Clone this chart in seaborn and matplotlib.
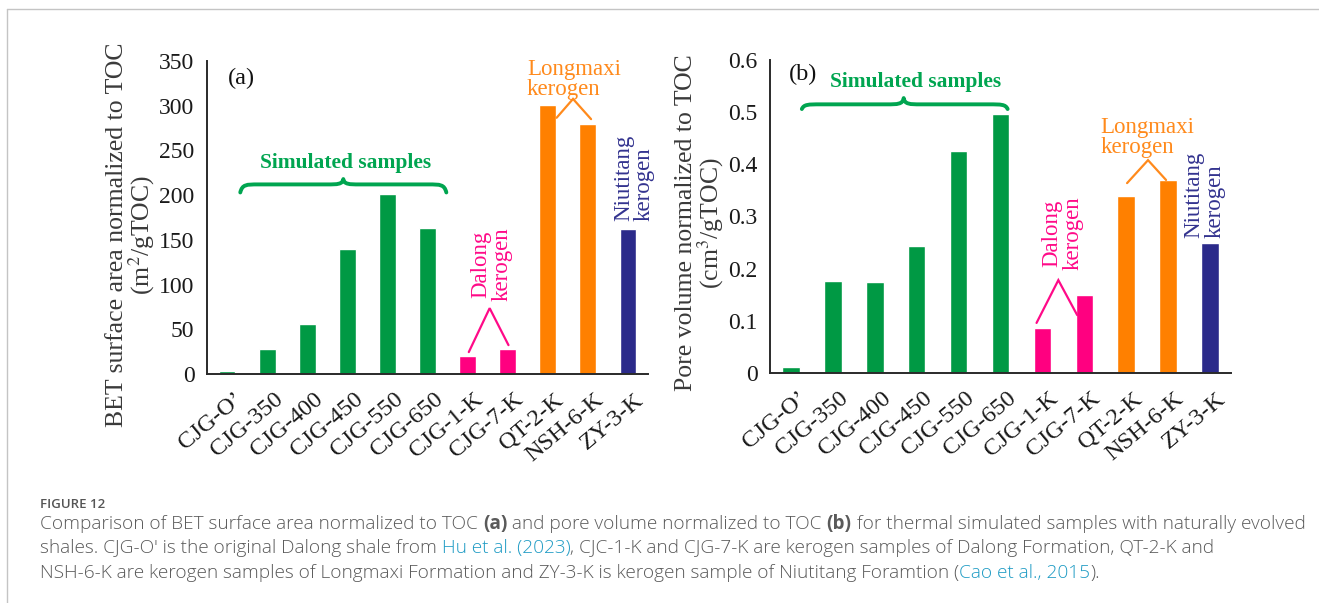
import numpy as np
import pandas as pd
import matplotlib
matplotlib.use("Agg")
import matplotlib.pyplot as plt
import matplotlib.transforms as mtransforms
import seaborn as sns
from matplotlib.path import Path
from matplotlib.patches import PathPatch
from matplotlib.lines import Line2D
from matplotlib.ticker import FixedLocator

# ---------------- data ----------------
samples = ["CJG-O’", "CJG-350", "CJG-400", "CJG-450", "CJG-550", "CJG-650",
           "CJG-1-K", "CJG-7-K", "QT-2-K", "NSH-6-K", "ZY-3-K"]
groups = ["Simulated", "Simulated", "Simulated", "Simulated", "Simulated", "Simulated",
          "Dalong", "Dalong", "Longmaxi", "Longmaxi", "Niutitang"]
bet_area = [3.7, 27.6, 55.6, 139.6, 201.5, 163.0, 20.0, 27.6, 300.7, 280.0, 161.6]
pore_volume = [0.012, 0.176, 0.175, 0.244, 0.426, 0.496, 0.087, 0.150, 0.339, 0.370, 0.249]
bet_ticks = [0, 50, 100, 150, 200, 250, 300, 350]
pv_ticks = [0, 0.1, 0.2, 0.3, 0.4, 0.5, 0.6]
pv_ticklabels = ["0", "0.1", "0.2", "0.3", "0.4", "0.5", "0.6"]

group_colors = {"Simulated": "#009944", "Dalong": "#FF0080",
                "Longmaxi": "#FF8000", "Niutitang": "#2B2A8A"}
text_colors = {"Simulated": "#00A550", "Dalong": "#FF0A88",
               "Longmaxi": "#FF8A1C", "Niutitang": "#33338F"}

df = pd.DataFrame({"sample": samples, "group": groups,
                   "bet": bet_area, "pv": pore_volume})

# ---------------- figure ----------------
W, H = 1319, 603
fig = plt.figure(figsize=(W / 100, H / 100), dpi=100)
sns.set_style("white")
plt.rcParams["font.family"] = ["Liberation Serif", "DejaVu Serif"]
plt.rcParams["mathtext.fontset"] = "stix"

def px_axes(l, r, t, b):
    return [l / W, 1 - b / H, (r - l) / W, (b - t) / H]

ax1 = fig.add_axes(px_axes(207, 648, 61, 374))
ax2 = fig.add_axes(px_axes(770, 1231, 60, 373))

FS = 16.5
YTFS = 17
XTFS = 17.5
AXC = "#2a2a2a"

def style_axis(ax, col, ylim, yticks, yticklabels=None):
    sns.barplot(data=df, x="sample", y=col, hue="group",
                palette=group_colors, width=0.42, saturation=1,
                legend=False, ax=ax, dodge=False)
    ax.set_xlim(-0.5, len(samples) - 0.5)
    ax.set_ylim(*ylim)
    for s in ["top", "right"]:
        ax.spines[s].set_visible(False)
    for s in ["left", "bottom"]:
        ax.spines[s].set_color(AXC)
        ax.spines[s].set_linewidth(1.4)
    ax.set_yticks(yticks)
    if yticklabels is not None:
        ax.set_yticklabels(yticklabels)
    ax.tick_params(axis="y", direction="out", length=6, width=1.4, color=AXC,
                   labelsize=YTFS, labelcolor="#1a1a1a", pad=3)
    ax.set_xticks(range(len(samples)))
    ax.set_xticklabels(samples, rotation=40, ha="right", va="center",
                       rotation_mode="anchor")
    ax.xaxis.set_minor_locator(FixedLocator(np.arange(-0.5, len(samples), 1.0)))
    ax.tick_params(axis="x", which="major", length=0, labelsize=XTFS,
                   labelcolor="#1a1a1a", pad=0)
    ax.tick_params(axis="x", which="minor", direction="out", length=6,
                   width=1.4, color=AXC)
    offset = mtransforms.ScaledTranslation(0.13, -0.23, fig.dpi_scale_trans)
    for lbl in ax.get_xticklabels():
        lbl.set_transform(lbl.get_transform() + offset)
    ax.set_xlabel("")
    ax.set_ylabel("")
    ax.patch.set_alpha(0)

style_axis(ax1, "bet", (0, 350), bet_ticks)
style_axis(ax2, "pv", (0, 0.6), pv_ticks, pv_ticklabels)

ax1.set_ylabel("BET surface area normalized to TOC\n(m$^{2}$/gTOC)",
               fontsize=18.5, color="#3a3a3a", ha="center", va="center",
               multialignment="center", linespacing=0.95)
ax1.yaxis.set_label_coords(-0.171, 0.444)
ax2.set_ylabel("Pore volume normalized to TOC\n(cm$^{3}$/gTOC)",
               fontsize=18.5, color="#3a3a3a", ha="center", va="center",
               multialignment="center", linespacing=0.95)
ax2.yaxis.set_label_coords(-0.151, 0.479)

# ---------------- annotations ----------------
def brace(ax, x0, x1, xm, y_end, y_flat, y_peak, color, lw=2.8):
    verts = [(x0, y_end),
             (x0 + 0.05, y_flat), (x0 + 0.15, y_flat), (x0 + 0.45, y_flat),
             (xm - 0.4, y_flat),
             (xm - 0.15, y_flat), (xm - 0.02, y_flat), (xm, y_peak),
             (xm + 0.02, y_flat), (xm + 0.15, y_flat), (xm + 0.4, y_flat),
             (x1 - 0.45, y_flat),
             (x1 - 0.15, y_flat), (x1 - 0.05, y_flat), (x1, y_end)]
    codes = [Path.MOVETO,
             Path.CURVE4, Path.CURVE4, Path.CURVE4,
             Path.LINETO,
             Path.CURVE4, Path.CURVE4, Path.CURVE4,
             Path.CURVE4, Path.CURVE4, Path.CURVE4,
             Path.LINETO,
             Path.CURVE4, Path.CURVE4, Path.CURVE4]
    ax.add_patch(PathPatch(Path(verts, codes), fill=False, edgecolor=color,
                           lw=lw, capstyle="round", joinstyle="round",
                           clip_on=False))

def chevron(ax, left, apex, right, color):
    ax.plot([left[0], apex[0], right[0]], [left[1], apex[1], right[1]],
            color=color, lw=1.6, clip_on=False, solid_joinstyle="miter")

SIM_KW = dict(fontsize=15.5, fontweight="bold", color=text_colors["Simulated"],
              ha="center", va="center")

# panel (a)
ax1.text(0.35, 331, "(a)", fontsize=FS + 1, color="#111111", ha="center", va="center")
ax1.text(2.95, 236, "Simulated samples", **SIM_KW)
brace(ax1, 0.33, 5.47, 2.9, 203, 212, 218, text_colors["Simulated"])
ax1.text(6.6, 123, "Dalong\nkerogen", fontsize=FS, rotation=90, ha="center",
         va="center", multialignment="center", linespacing=1.0,
         color=text_colors["Dalong"])
chevron(ax1, (6.03, 24.5), (6.55, 73.6), (7.02, 32.3), text_colors["Dalong"])
ax1.text(7.48, 329, "Longmaxi\nkerogen", fontsize=FS, ha="left", va="center",
         multialignment="left", linespacing=0.95, color=text_colors["Longmaxi"],
         clip_on=False)
chevron(ax1, (8.22, 286.5), (8.63, 307.6), (9.08, 285), text_colors["Longmaxi"])
ax1.text(10.15, 171.6, "Niutitang\nkerogen", fontsize=FS, rotation=90, ha="center",
         va="bottom", multialignment="left", linespacing=1.0,
         color=text_colors["Niutitang"], clip_on=False)

# panel (b)
ax2.text(0.3, 0.572, "(b)", fontsize=FS + 1, color="#111111", ha="center", va="center")
ax2.text(2.98, 0.558, "Simulated samples", **SIM_KW)
brace(ax2, 0.26, 5.17, 2.69, 0.506, 0.515, 0.527, text_colors["Simulated"])
ax2.text(6.48, 0.268, "Dalong\nkerogen", fontsize=FS, rotation=90, ha="center",
         va="center", multialignment="center", linespacing=1.0,
         color=text_colors["Dalong"])
chevron(ax2, (5.86, 0.096), (6.38, 0.178), (6.83, 0.111), text_colors["Dalong"])
ax2.text(7.38, 0.452, "Longmaxi\nkerogen", fontsize=FS, ha="left", va="center",
         multialignment="left", linespacing=0.95, color=text_colors["Longmaxi"])
chevron(ax2, (8.02, 0.364), (8.52, 0.408), (8.95, 0.370), text_colors["Longmaxi"])
ax2.text(9.86, 0.259, "Niutitang\nkerogen", fontsize=FS, rotation=90, ha="center",
         va="bottom", multialignment="left", linespacing=1.0,
         color=text_colors["Niutitang"], clip_on=False)

# ---------------- frame lines ----------------
fig.add_artist(Line2D([7 / W, 1], [1 - 9 / H, 1 - 9 / H], transform=fig.transFigure,
                      color="#c4c4c4", lw=1.0))
fig.add_artist(Line2D([7 / W, 7 / W], [0, 1 - 9 / H], transform=fig.transFigure,
                      color="#c4c4c4", lw=1.0))

# ---------------- caption ----------------
CAP_FONT = ["Open Sans", "DejaVu Sans"]
CAP_COLOR = "#5a5a5a"
LINK = "#1E9BC4"
renderer = fig.canvas.get_renderer()

def text_width(s, **kw):
    t = fig.text(0, 0, s + "|", **kw)
    w1 = t.get_window_extent(renderer).width
    t.remove()
    t = fig.text(0, 0, "|", **kw)
    w2 = t.get_window_extent(renderer).width
    t.remove()
    return w1 - w2

caption_lines = [
    [("Comparison of BET surface area normalized to TOC ", "n"), ("(a)", "b"),
     (" and pore volume normalized to TOC ", "n"), ("(b)", "b"),
     (" for thermal simulated samples with naturally evolved", "n")],
    [("shales. CJG-O′ is the original Dalong shale from ", "n"),
     ("Hu et al. (2023)", "l"),
     (", CJC-1-K and CJG-7-K are kerogen samples of Dalong Formation, QT-2-K and", "n")],
    [("NSH-6-K are kerogen samples of Longmaxi Formation and ZY-3-K is kerogen sample of Niutitang Foramtion (", "n"),
     ("Cao et al., 2015", "l"), (").", "n")],
]

base = 11.0
def props(kind, size):
    d = dict(fontsize=size, family=CAP_FONT, color=CAP_COLOR, fontweight="light")
    if kind == "b":
        d["fontweight"] = "bold"
    if kind == "l":
        d["color"] = LINK
    return d

w_line1 = sum(text_width(s, **props(k, base)) for s, k in caption_lines[0])
cap_size = base * (1307 - 40) / w_line1

fig.text(40 / W, 1 - 508 / H, "FIGURE 12", fontsize=9.5, family=CAP_FONT,
         color="#555555", fontweight="semibold", va="baseline", ha="left")
baselines = [529, 553, 578]
for line, yb in zip(caption_lines, baselines):
    x = 40.0
    for s, k in line:
        p = props(k, cap_size)
        fig.text(x / W, 1 - yb / H, s, va="baseline", ha="left", **p)
        x += text_width(s, **p)

fig.savefig("out.png", dpi=100)
